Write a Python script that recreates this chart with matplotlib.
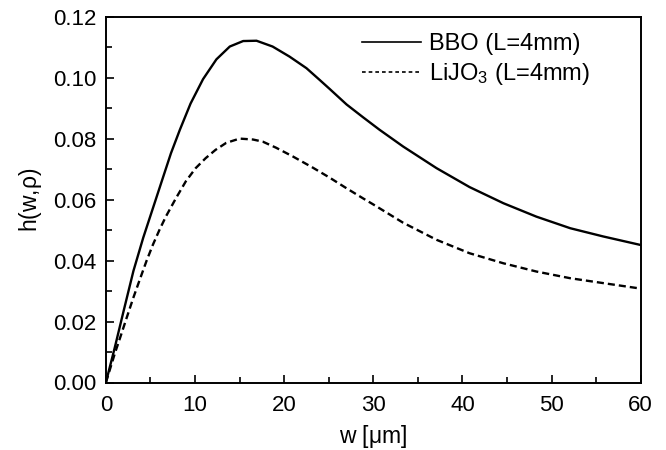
import numpy as np
import matplotlib.pyplot as plt
from matplotlib.ticker import MultipleLocator

plt.rcParams['font.family'] = ['Liberation Sans', 'DejaVu Sans']
plt.rcParams['mathtext.fontset'] = 'custom'
plt.rcParams['mathtext.rm'] = 'Liberation Sans'
plt.rcParams['mathtext.it'] = 'Liberation Sans'

# Datos
w_bbo = [0, 1.0, 2.0, 3.09, 4.19, 5.29, 6.4, 7.3, 8.3, 9.5, 10.9, 12.4, 13.9, 15.4,
         16.9, 18.7, 20.6, 22.5, 24.0, 25.1, 27.0, 28.85, 30.7, 33.35, 37.1, 40.8,
         44.6, 48.3, 52.1, 55.8, 60.0]
h_bbo = [0, 0.0115, 0.0236, 0.0366, 0.0475, 0.0573, 0.0672, 0.0752, 0.0829, 0.0915,
         0.0995, 0.1060, 0.1102, 0.1120, 0.1121, 0.1102, 0.1069, 0.1031, 0.0992, 0.0963,
         0.0912, 0.0870, 0.0829, 0.0774, 0.0703, 0.0641, 0.0588, 0.0544, 0.0506, 0.0479,
         0.0451]

w_lijo = [0, 1.0, 1.62, 2.35, 3.09, 3.82, 4.56, 5.29, 6.03, 6.76, 7.87, 8.97, 10.07,
          11.2, 12.3, 13.5, 15.0, 16.5, 17.6, 19.1, 21.0, 23.2, 25.1, 27.0, 28.85, 30.0,
          33.35, 37.1, 40.8, 44.6, 48.3, 52.1, 55.8, 60.0]
h_lijo = [0, 0.0095, 0.0149, 0.0214, 0.0279, 0.0339, 0.0399, 0.0453, 0.0502, 0.0546,
          0.0605, 0.0660, 0.0703, 0.0736, 0.0763, 0.0786, 0.0800, 0.0797, 0.0790, 0.0770,
          0.0741, 0.0705, 0.0672, 0.0637, 0.0604, 0.0584, 0.0524, 0.0468, 0.0424, 0.0391,
          0.0364, 0.0342, 0.0326, 0.0308]

label_bbo = 'BBO (L=4mm)'
label_lijo = r'LiJO$_3$ (L=4mm)'

fig, ax = plt.subplots(figsize=(6.66, 4.5), dpi=100)
fig.subplots_adjust(left=0.159, right=0.962, bottom=0.150, top=0.963)

ax.plot(w_bbo, h_bbo, color='black', lw=1.7, label=label_bbo)
ax.plot(w_lijo, h_lijo, color='black', lw=1.7, linestyle=(0, (3, 1.7)), label=label_lijo)

ax.set_xlim(0, 60)
ax.set_ylim(0, 0.12)
ax.xaxis.set_major_locator(MultipleLocator(10))
ax.xaxis.set_minor_locator(MultipleLocator(5))
ax.yaxis.set_major_locator(MultipleLocator(0.02))
ax.yaxis.set_minor_locator(MultipleLocator(0.01))
ax.yaxis.set_major_formatter(plt.FormatStrFormatter('%.2f'))
ax.tick_params(which='both', direction='in', top=False, right=False, labelsize=16, width=1.2)
ax.tick_params(which='major', length=6)
ax.tick_params(which='minor', length=4)
ax.tick_params(axis='x', which='major', pad=9)
ax.tick_params(axis='y', which='major', pad=6.5)
for s in ax.spines.values():
    s.set_linewidth(1.4)

ax.set_xlabel(r'w [$\mathrm{\mu}$m]', fontsize=16.5, labelpad=5)
ax.set_ylabel(r'h(w,$\rho$)', fontsize=16.5, labelpad=7)

leg = ax.legend(loc='upper left', bbox_to_anchor=(0.478, 0.955), frameon=False, fontsize=17,
                handlelength=2.5, handletextpad=0.35, labelspacing=0.25, borderpad=0,
                borderaxespad=0)
leg.get_lines()[0].set_linewidth(1.2)
leg.get_lines()[1].set_linewidth(1.2)
leg.get_lines()[1].set_dashes([2.2, 1.8])

plt.savefig('out.png', dpi=100)
